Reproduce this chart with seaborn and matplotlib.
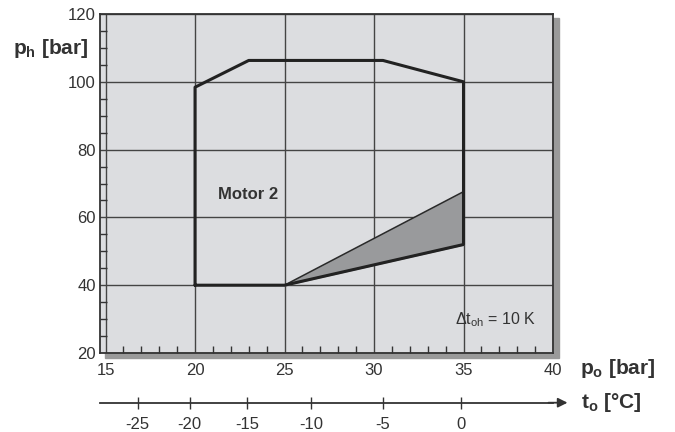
import matplotlib
matplotlib.use("Agg")
import matplotlib.pyplot as plt
from matplotlib.patches import Rectangle
from matplotlib.ticker import MultipleLocator
import seaborn as sns
import pandas as pd

# Operating envelope (Motor 2), p_o vs p_h in bar
po_boundary = [20, 20, 23, 30.5, 35, 35, 25, 20]
ph_boundary = [40, 98.4, 106.3, 106.3, 100, 52, 40, 40]

# shaded wedge
wedge_po = [25, 35]
wedge_upper = [40, 67.6]
wedge_lower = [40, 52]

# temperature scale (CO2 saturation pressure)
t_ticks = [-25, -20, -15, -10, -5, 0]
p_sat = [16.8, 19.7, 22.9, 26.5, 30.5, 34.85]

sns.set_theme(style="ticks")
plt.rcParams['font.family'] = ['Liberation Sans', 'DejaVu Sans']
plt.rcParams['mathtext.fontset'] = 'custom'
plt.rcParams['mathtext.rm'] = 'Liberation Sans'
plt.rcParams['mathtext.it'] = 'Liberation Sans'
plt.rcParams['mathtext.bf'] = 'Liberation Sans:bold'

dark = '#2a2a2a'
W, H = 675, 432
fig = plt.figure(figsize=(6.75, 4.32), dpi=100)
ax = fig.add_axes([100 / W, 1 - 353 / H, 453 / W, 339 / H])
ax.set_facecolor('#dcdde0')

# drop shadow
fig.add_artist(Rectangle((105 / W, (H - 358) / H), 454 / W, 340 / H,
                         transform=fig.transFigure, color='#9a9a9a', zorder=-1))

df = pd.DataFrame({'po': po_boundary, 'ph': ph_boundary})

ax.fill_between(wedge_po, wedge_lower, wedge_upper, color='#999a9c', zorder=2)
ax.plot(wedge_po, wedge_upper, color=dark, lw=1.1, zorder=3)
ax.plot(wedge_po, wedge_lower, color=dark, lw=1.1, zorder=3)
sns.lineplot(data=df, x='po', y='ph', sort=False, estimator=None,
             color='#222222', lw=2.2, ax=ax, zorder=4)

ax.set_xlim(14.69, 40)
ax.set_ylim(20, 120)
ax.set_xticks([15, 20, 25, 30, 35, 40])
ax.set_yticks([20, 40, 60, 80, 100, 120])
ax.xaxis.set_minor_locator(MultipleLocator(1))
ax.yaxis.set_minor_locator(MultipleLocator(5))
ax.grid(True, which='major', color='#444444', lw=1.0)
ax.set_axisbelow(True)
ax.tick_params(which='both', direction='in', colors='#333333', labelsize=12,
               width=1.0)
ax.tick_params(which='major', length=0, pad=7)
ax.tick_params(axis='y', which='major', pad=3)
ax.tick_params(which='minor', length=5)
for s in ax.spines.values():
    s.set_color('#333333')
    s.set_linewidth(1.3)
ax.set_xlabel('')
ax.set_ylabel('')

ax.text(21.3, 66.7, 'Motor 2', fontsize=12, fontweight='bold',
        color='#333333', va='center', ha='left')
ax.text(34.5, 29.7, r'$\Delta$t$_{\mathrm{oh}}$ = 10 K', fontsize=11.5,
        color='#333333', va='center', ha='left')

fig.text(13 / W, 1 - 48 / H, r'$\mathbf{p_h}$ [bar]', fontsize=15,
         fontweight='bold', color='#333333', va='center', ha='left')
fig.text(580 / W, 1 - 368 / H, r'$\mathbf{p_o}$ [bar]', fontsize=15,
         fontweight='bold', color='#333333', va='center', ha='left')
fig.text(581 / W, 1 - 403 / H, r'$\mathbf{t_o}$ [°C]', fontsize=15,
         fontweight='bold', color='#333333', va='center', ha='left')

# temperature axis below
t_pos = -49.7 / 339
tax = ax.secondary_xaxis(t_pos)
tax.set_xticks(p_sat, labels=[str(t) for t in t_ticks])
tax.tick_params(direction='inout', length=8, width=1.0, colors='#333333',
                labelsize=12, pad=6)
tax.spines['bottom'].set_color('#333333')
tax.spines['bottom'].set_linewidth(1.3)
ax.annotate('', xy=(1.032, t_pos), xytext=(0.99, t_pos),
            xycoords='axes fraction', annotation_clip=False,
            arrowprops=dict(arrowstyle='-|>', color='#333333', lw=1.3,
                            mutation_scale=14, shrinkA=0, shrinkB=0))

fig.savefig('out.png', dpi=100)
